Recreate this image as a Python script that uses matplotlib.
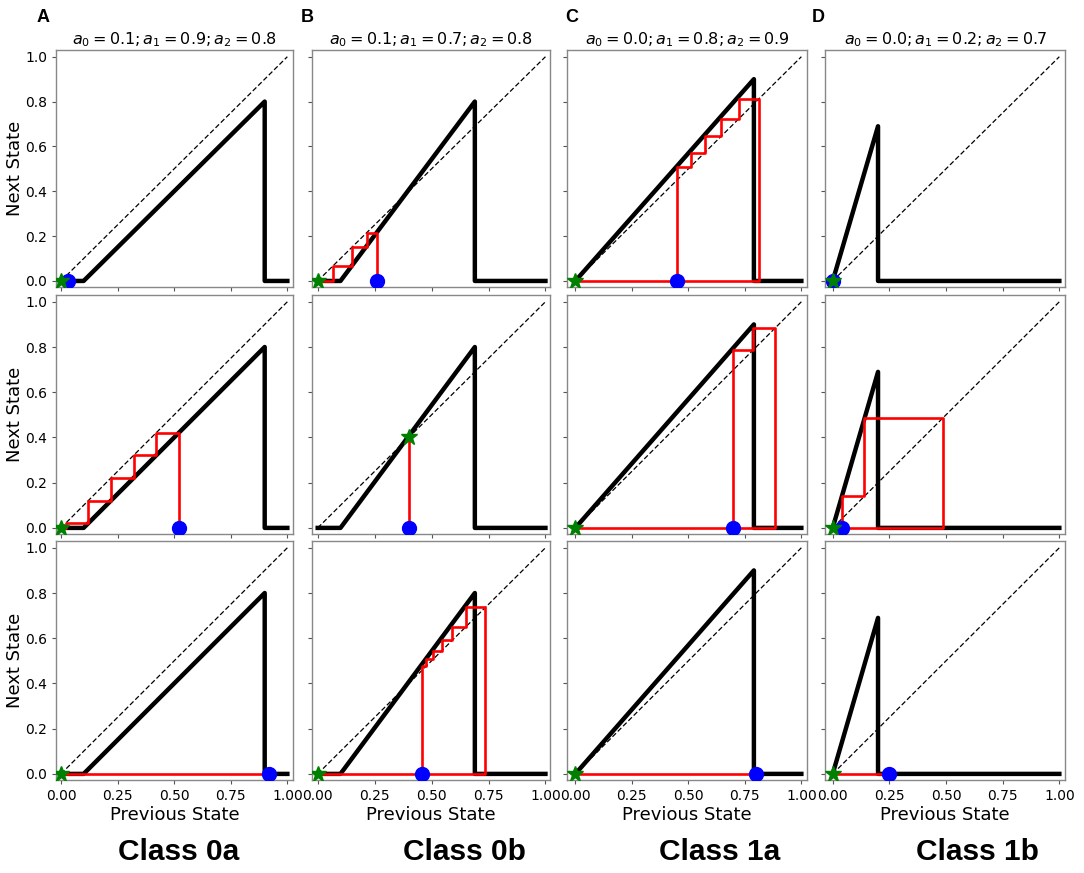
import matplotlib
matplotlib.use("Agg")
import matplotlib.pyplot as plt

# columns: A, B, C, D
letters = ["A", "B", "C", "D"]
classes = ["Class 0a", "Class 0b", "Class 1a", "Class 1b"]
title_a0 = [0.1, 0.1, 0.0, 0.0]
title_a1 = [0.9, 0.7, 0.8, 0.2]
title_a2 = [0.8, 0.8, 0.9, 0.7]

# map shape as drawn (start of rise, drop point, peak height)
map_a0 = [0.1, 0.1, 0.0, 0.0]
map_a1 = [0.9, 0.69, 0.79, 0.2]
map_a2 = [0.8, 0.8, 0.9, 0.69]

orbits = [
    [[0.032, 0.0],
     [0.521, 0.421, 0.321, 0.221, 0.121, 0.021, 0.0],
     [0.92, 0.0]],
    [[0.262, 0.215, 0.15, 0.068, 0.0],
     [0.40, 0.40],
     [0.46, 0.477, 0.507, 0.545, 0.59, 0.651, 0.736, 0.0]],
    [[0.45, 0.51, 0.572, 0.646, 0.724, 0.812, 0.0],
     [0.696, 0.786, 0.882, 0.0],
     [0.80, 0.0]],
    [[0.0, 0.0],
     [0.042, 0.14, 0.488, 0.0],
     [0.248, 0.0]],
]

x_ticks = [0.0, 0.25, 0.5, 0.75, 1.0]
y_ticks = [0.0, 0.2, 0.4, 0.6, 0.8, 1.0]

W, H = 1084, 873
col_px = [(56, 293), (312, 550), (567, 807), (825, 1065)]
row_px = [(50, 287), (295, 534), (541, 780)]
col_xlim = [(-0.022, 1.025), (-0.025, 1.02), (-0.037, 1.025), (-0.034, 1.025)]
class_x = [179, 464, 720, 977]
letter_x = [43, 307, 572, 818]

fig = plt.figure(figsize=(W / 100, H / 100), dpi=100)

for c in range(4):
    for r in range(3):
        l, rr = col_px[c]
        t, b = row_px[r]
        ax = fig.add_axes([l / W, 1 - b / H, (rr - l) / W, (b - t) / H])

        a0, a1, a2 = map_a0[c], map_a1[c], map_a2[c]
        ax.plot([0, a0, a1, a1, 1.0], [0, 0, a2, 0, 0], color="black", lw=3.2, zorder=2)
        ax.plot([0, 1], [0, 1], color="black", lw=0.9, ls="--", dashes=(4, 2), zorder=3)

        seq = orbits[c][r]
        xs, ys = [seq[0]], [0.0]
        for i in range(len(seq) - 1):
            xs += [seq[i], seq[i + 1]]
            ys += [seq[i + 1], seq[i + 1]]
        ax.plot(xs, ys, color="red", lw=1.9, zorder=4)
        ax.plot(seq[0], 0, "o", color="blue", ms=10, zorder=5)
        ax.plot(seq[-1], seq[-1], "*", color="green", ms=12, zorder=6)

        ax.set_xlim(*col_xlim[c])
        ax.set_ylim(-0.027, 1.03)
        ax.set_xticks(x_ticks)
        ax.set_yticks(y_ticks)
        ax.tick_params(length=3, width=0.8, color="#555555", labelsize=10)
        for s in ax.spines.values():
            s.set_color("#888888")
            s.set_linewidth(1.0)

        if c == 0:
            ax.set_ylabel("Next State", fontsize=13, labelpad=1)
        else:
            ax.set_yticklabels([])
        if r == 2:
            ax.set_xlabel("Previous State", fontsize=13, labelpad=2)
        else:
            ax.set_xticklabels([])
        if r == 0:
            ax.set_title(r"$a_0 = %.1f; a_1 = %.1f; a_2 = %.1f$"
                         % (title_a0[c], title_a1[c], title_a2[c]),
                         fontsize=11.5, pad=4)

for c in range(4):
    fig.text(letter_x[c] / W, 1 - 17 / H, letters[c], fontsize=13, fontweight="bold",
             family="Liberation Sans", ha="center", va="center")
    fig.text(class_x[c] / W, 1 - 852 / H, classes[c], fontsize=21.5, fontweight="bold",
             family="Liberation Sans", ha="center", va="center")

fig.savefig("out.png", dpi=100)
